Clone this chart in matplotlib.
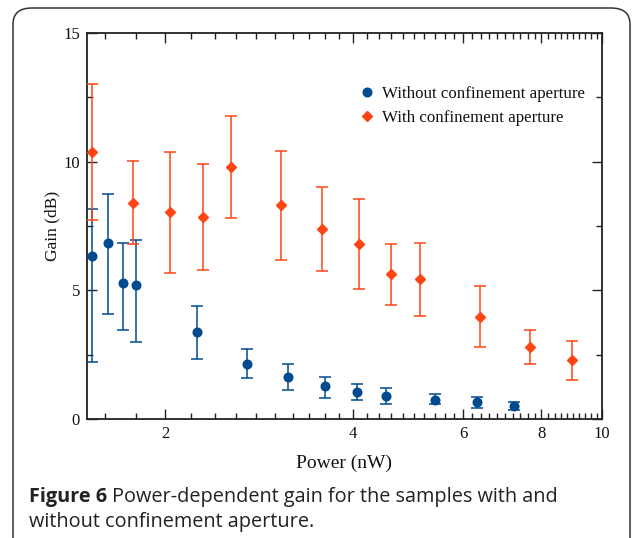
import matplotlib
matplotlib.use("Agg")
import matplotlib.pyplot as plt
from matplotlib.patches import FancyBboxPatch
from matplotlib.ticker import FixedLocator, NullFormatter, FixedFormatter
import numpy as np

# ---- data ----
x_without = [1.53, 1.62, 1.71, 1.80, 2.25, 2.70, 3.15, 3.60, 4.06, 4.51, 5.41, 6.31, 7.22]
y_without = [6.33, 6.85, 5.30, 5.20, 3.39, 2.14, 1.65, 1.28, 1.05, 0.89, 0.74, 0.66, 0.51]
hi_without = [8.16, 8.74, 6.85, 6.94, 4.40, 2.73, 2.14, 1.64, 1.36, 1.22, 0.98, 0.84, 0.66]
lo_without = [2.20, 4.08, 3.46, 2.98, 2.33, 1.58, 1.14, 0.82, 0.74, 0.57, 0.57, 0.43, 0.34]

x_with = [1.53, 1.78, 2.04, 2.30, 2.55, 3.06, 3.57, 4.09, 4.59, 5.11, 6.38, 7.66, 8.95]
y_with = [10.36, 8.41, 8.03, 7.85, 9.79, 8.30, 7.38, 6.80, 5.62, 5.44, 3.98, 2.79, 2.28]
hi_with = [13.02, 10.02, 10.36, 9.91, 11.78, 10.43, 9.02, 8.56, 6.81, 6.85, 5.16, 3.46, 3.04]
lo_with = [7.72, 6.79, 5.69, 5.79, 7.82, 6.18, 5.76, 5.05, 4.43, 4.02, 2.79, 2.13, 1.52]

x_ticks = [2, 4, 6, 8, 10]
x_ticklabels = ["2", "4", "6", "8", "10"]
y_ticks = [0, 5, 10, 15]
y_ticklabels = ["0", "5", "10", "15"]

blue = "#004a8f"
red = "#ff4513"
axcol = "#222222"

W, H = 632, 538
fig = plt.figure(figsize=(W / 100, H / 100), dpi=100)

# rounded frame
frame = FancyBboxPatch((13 / W, -20 / H), (630 - 13) / W, (538 - 8 + 20) / H,
                       boxstyle="round,pad=0,rounding_size=0.03",
                       transform=fig.transFigure, fill=False,
                       edgecolor="#333333", linewidth=1.1)
fig.patches.append(frame)

ax = fig.add_axes([87 / W, 1 - 419 / H, (602 - 87) / W, (419 - 33) / H])

serif = ["Liberation Serif", "DejaVu Serif"]

def errs(y, lo, hi):
    y = np.array(y); return [y - np.array(lo), np.array(hi) - y]

ax.errorbar(x_without, y_without, yerr=errs(y_without, lo_without, hi_without),
            fmt="o", color=blue, ms=6.2, elinewidth=1.1, capsize=4.5, capthick=1.1,
            label="Without confinement aperture", zorder=3)
ax.errorbar(x_with, y_with, yerr=errs(y_with, lo_with, hi_with),
            fmt="D", color=red, ms=4.6, elinewidth=1.1, capsize=4.5, capthick=1.1,
            label="With confinement aperture", zorder=3)

ax.set_xscale("log")
ax.set_xlim(1.5, 10)
ax.set_ylim(0, 15)

ax.xaxis.set_major_locator(FixedLocator(x_ticks))
ax.xaxis.set_major_formatter(FixedFormatter(x_ticklabels))
minor_x = [v for v in np.round(np.arange(1.6, 10.0, 0.2), 1) if v not in x_ticks]
ax.xaxis.set_minor_locator(FixedLocator(minor_x))
ax.xaxis.set_minor_formatter(NullFormatter())
ax.yaxis.set_major_locator(FixedLocator(y_ticks))
ax.yaxis.set_major_formatter(FixedFormatter(y_ticklabels))
ax.yaxis.set_minor_locator(FixedLocator([2.5, 7.5, 12.5]))

ax.tick_params(which="both", direction="in", top=True, right=True, color=axcol,
               labelcolor="#111111", labelsize=12, width=1.0)
ax.tick_params(which="major", length=7, pad=5)
ax.tick_params(which="minor", length=4)
for lab in ax.get_xticklabels() + ax.get_yticklabels():
    lab.set_family(serif)
for sp in ax.spines.values():
    sp.set_color(axcol)
    sp.set_linewidth(1.3)

ax.set_xlabel("Power (nW)", family=serif, fontsize=14, color="#111111", labelpad=9)
ax.set_ylabel("Gain (dB)", family=serif, fontsize=12.5, color="#111111", labelpad=2)

h, l = ax.get_legend_handles_labels()
h = [hh[0] for hh in h]
leg = ax.legend(h, l, loc="upper left", bbox_to_anchor=(0.53, 0.862), frameon=False,
                prop={"family": serif, "size": 12.2}, handlelength=0.8,
                handletextpad=0.5, labelspacing=0.45, borderpad=0, borderaxespad=0)
for t in leg.get_texts():
    t.set_color("#111111")

# caption
capcol = "#222222"
fig.canvas.draw()
r = fig.canvas.get_renderer()
t1 = fig.text(29 / W, 1 - 502 / H, "Figure 6", family="Open Sans", weight="bold",
              fontsize=14.3, color=capcol, va="baseline", ha="left")
bb = t1.get_window_extent(renderer=r)
fig.text(bb.x1 / W + 5 / W, 1 - 502 / H, "Power-dependent gain for the samples with and",
         family="Open Sans", fontsize=14.3, color=capcol, va="baseline", ha="left")
fig.text(29 / W, 1 - 527 / H, "without confinement aperture.", family="Open Sans",
         fontsize=14.3, color=capcol, va="baseline", ha="left")

fig.savefig("out.png", dpi=100)
